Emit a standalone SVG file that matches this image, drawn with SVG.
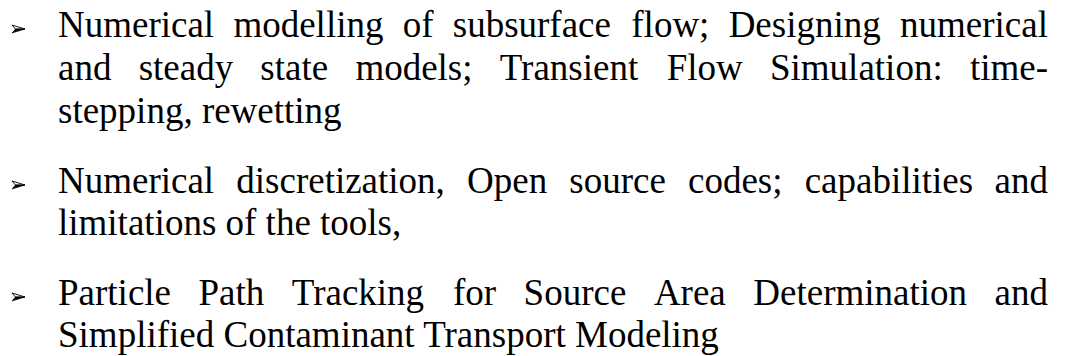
<svg xmlns="http://www.w3.org/2000/svg" xmlns:xlink="http://www.w3.org/1999/xlink" width="1065" height="356" viewBox="0 0 1065 356">
  <style>
    .t { font-family: "Liberation Serif", "Tinos", "DejaVu Serif", serif; font-size: 37px; fill: #000; }
  </style>
  <defs>
    <g id="bullet">
      <path d="M0,-4 L13,0 L3.5,0 Z" fill="#fff" stroke="#000" stroke-width="0.9"/>
      <path d="M3.5,0 L13,0 L0,4 Z" fill="#000" stroke="#000" stroke-width="0.6"/>
    </g>
  </defs>
  <rect width="1065" height="356" fill="#fff"/>

  <g id="item1">
    <use xlink:href="#bullet" transform="translate(12,29)"/>
    <text class="t" y="37"><tspan x="58">Numerical</tspan> <tspan x="233.41">modelling</tspan> <tspan x="402.71">of</tspan> <tspan x="452.76">subsurface</tspan> <tspan x="631.31">flow;</tspan> <tspan x="728.65">Designing</tspan> <tspan x="1048" text-anchor="end">numerical</tspan></text>
    <text class="t" y="80"><tspan x="58">and</tspan> <tspan x="138.63">steady</tspan> <tspan x="260.37">state</tspan> <tspan x="355.39">models;</tspan> <tspan x="499.77">Transient</tspan> <tspan x="666.72">Flow</tspan> <tspan x="769.99">Simulation:</tspan> <tspan x="1048" text-anchor="end">time-</tspan></text>
    <text class="t" y="123" x="58">stepping, rewetting</text>
  </g>

  <g id="item2">
    <use xlink:href="#bullet" transform="translate(12,185)"/>
    <text class="t" y="193"><tspan x="58">Numerical</tspan> <tspan x="236.30">discretization,</tspan> <tspan x="467.03">Open</tspan> <tspan x="569.29">source</tspan> <tspan x="687.98">codes;</tspan> <tspan x="804.64">capabilities</tspan> <tspan x="1048" text-anchor="end">and</tspan></text>
    <text class="t" y="235" x="58">limitations of the tools,</text>
  </g>

  <g id="item3">
    <use xlink:href="#bullet" transform="translate(12,297)"/>
    <text class="t" y="305"><tspan x="58">Particle</tspan> <tspan x="198.56">Path</tspan> <tspan x="291.87">Tracking</tspan> <tspan x="452.96">for</tspan> <tspan x="523.62">Source</tspan> <tspan x="653.89">Area</tspan> <tspan x="753.30">Determination</tspan> <tspan x="1048" text-anchor="end">and</tspan></text>
    <text class="t" y="347" x="58">Simplified Contaminant Transport Modeling</text>
  </g>
</svg>
